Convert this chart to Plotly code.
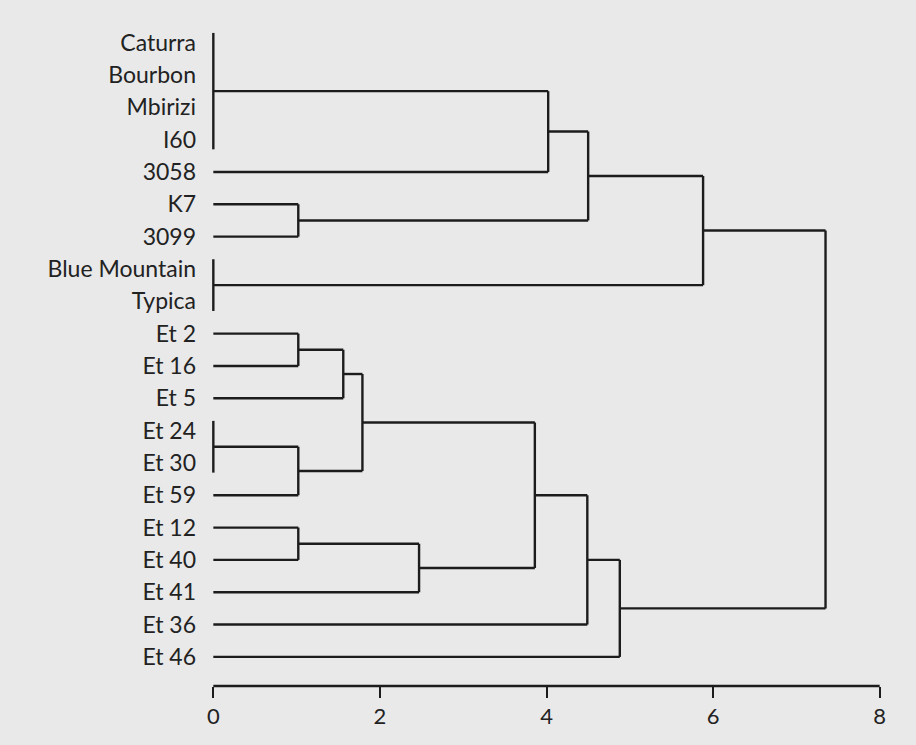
import plotly.graph_objects as go

# ---- data ----
leaf_labels = ["Caturra", "Bourbon", "Mbirizi", "I60", "3058", "K7", "3099",
               "Blue Mountain", "Typica", "Et 2", "Et 16", "Et 5", "Et 24",
               "Et 30", "Et 59", "Et 12", "Et 40", "Et 41", "Et 36", "Et 46"]

# merges: (new node name, children, linkage distance)
merge_names = ["A", "B", "C", "D", "E", "F", "G", "H", "I", "J", "K", "L",
               "M", "N", "O", "P", "root"]
merge_children = [
    ["Caturra", "Bourbon", "Mbirizi", "I60"],
    ["A", "3058"],
    ["K7", "3099"],
    ["B", "C"],
    ["Blue Mountain", "Typica"],
    ["D", "E"],
    ["Et 2", "Et 16"],
    ["G", "Et 5"],
    ["Et 24", "Et 30"],
    ["I", "Et 59"],
    ["H", "J"],
    ["Et 12", "Et 40"],
    ["L", "Et 41"],
    ["K", "M"],
    ["N", "Et 36"],
    ["O", "Et 46"],
    ["F", "P"],
]
merge_heights = [0, 4.02, 1.02, 4.5, 0, 5.88, 1.02, 1.56, 0, 1.02, 1.79,
                 1.02, 2.47, 3.86, 4.49, 4.88, 7.35]

x_ticks = [0, 2, 4, 6, 8]

# ---- build segments ----
pos = {lab: (0.0, float(i)) for i, lab in enumerate(leaf_labels)}  # (height, y)
xs, ys = [], []
TIE_EXT = 0.3
for name, kids, h in zip(merge_names, merge_children, merge_heights):
    kid_y = [pos[k][1] for k in kids]
    for k in kids:
        kh, ky = pos[k]
        if h > kh:
            xs += [kh, h, None]
            ys += [ky, ky, None]
    lo, hi = min(kid_y), max(kid_y)
    if h == 0:
        lo -= TIE_EXT
        hi += TIE_EXT
    xs += [h, h, None]
    ys += [lo, hi, None]
    pos[name] = (h, (min(kid_y) + max(kid_y)) / 2)

line_col = "#1c1c1c"
bg = "#e9e9e9"

fig = go.Figure()
fig.add_trace(go.Scatter(x=xs, y=ys, mode="lines",
                         line=dict(color=line_col, width=2.4),
                         hoverinfo="skip", showlegend=False))

fig.update_layout(
    width=916, height=745,
    margin=dict(l=205, r=28, t=20, b=59),
    paper_bgcolor=bg, plot_bgcolor=bg,
    font=dict(family="Lato, Noto Sans, sans-serif", color="#222222"),
    showlegend=False,
    xaxis=dict(range=[-0.1, 8.1], tickvals=x_ticks,
               ticktext=[str(v) for v in x_ticks],
               showgrid=False, zeroline=False, showline=False,
               ticks="outside", ticklen=11, tickwidth=2, tickcolor=line_col,
               tickfont=dict(size=22, color="#222222"),
               fixedrange=True),
    yaxis=dict(range=[19.9, -0.7], tickvals=list(range(len(leaf_labels))),
               ticktext=leaf_labels, showgrid=False, zeroline=False,
               showline=False, ticks="", ticklabelstandoff=8,
               tickfont=dict(size=23, color="#222222"),
               fixedrange=True),
)
fig.add_shape(type="line", xref="x", yref="paper",
              x0=x_ticks[0], x1=x_ticks[-1], y0=0, y1=0,
              line=dict(color=line_col, width=2.4))

fig.write_html(
    "out.html",
    config={"displayModeBar": False},
    post_script="document.body.style.margin='0';"
                "document.body.style.background='" + bg + "';",
)
